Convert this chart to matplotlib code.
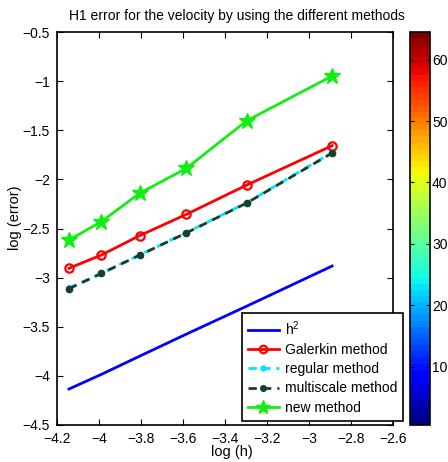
import numpy as np
import matplotlib
matplotlib.use('Agg')
import matplotlib.pyplot as plt
from matplotlib.colors import ListedColormap, Normalize
from matplotlib.cm import ScalarMappable

plt.rcParams['font.family'] = ['Liberation Sans', 'DejaVu Sans']
plt.rcParams['font.size'] = 10
plt.rcParams['mathtext.fontset'] = 'custom'
plt.rcParams['mathtext.rm'] = 'Liberation Sans'
plt.rcParams['mathtext.it'] = 'Liberation Sans'

# log of mesh size h = 1/63, 1/54, 1/45, 1/36, 1/27, 1/18
log_h = [-4.143, -3.989, -3.807, -3.584, -3.296, -2.890]
ref_h2 = [-4.134, -3.985, -3.800, -3.575, -3.290, -2.882]
galerkin = [-2.905, -2.770, -2.573, -2.356, -2.057, -1.657]
regular = [-3.109, -2.956, -2.770, -2.542, -2.237, -1.728]
multiscale = [-3.112, -2.958, -2.772, -2.545, -2.240, -1.732]
new_method = [-2.617, -2.430, -2.142, -1.888, -1.402, -0.948]

xticks = [-4.2, -4.0, -3.8, -3.6, -3.4, -3.2, -3.0, -2.8, -2.6]
xticklabels = ['\u22124.2', '\u22124', '\u22123.8', '\u22123.6', '\u22123.4',
               '\u22123.2', '\u22123', '\u22122.8', '\u22122.6']
yticks = [-4.5, -4.0, -3.5, -3.0, -2.5, -2.0, -1.5, -1.0, -0.5]
yticklabels = ['\u22124.5', '\u22124', '\u22123.5', '\u22123', '\u22122.5',
               '\u22122', '\u22121.5', '\u22121', '\u22120.5']
cbar_ticks = [10, 20, 30, 40, 50, 60]

W, H = 448, 462
fig = plt.figure(figsize=(W / 100, H / 100), dpi=100)
ax = fig.add_axes([57 / W, 37 / H, 336 / W, 393 / H])

ax.plot(log_h, ref_h2, color='#0000ff', lw=2.0, label='h$^2$')
ax.plot(log_h, galerkin, color='#ff0000', lw=2.0, marker='o', ms=6,
        mfc='none', mew=1.6, label='Galerkin method')
ax.plot(log_h, regular, color='#00e5ff', lw=2.0, ls=(0, (3, 2)), marker='o',
        ms=4, label='regular method')
ax.plot(log_h, multiscale, color='#173f30', lw=2.0, ls=(0, (3, 2.2)), marker='o',
        ms=4.5, label='multiscale method')
ax.plot(log_h, new_method, color='#11ee11', lw=2.0, marker='*', ms=12,
        label='new method')

ax.set_xlim(-4.2, -2.6)
ax.set_ylim(-4.5, -0.5)
ax.set_xticks(xticks)
ax.set_xticklabels(xticklabels)
ax.set_yticks(yticks)
ax.set_yticklabels(yticklabels)
ax.tick_params(direction='in', length=4, width=0.8, top=True, right=True,
               labelsize=10, pad=5)
for s in ax.spines.values():
    s.set_linewidth(1.2)

ax.set_xlabel('log (h)', fontsize=10.5, va='center')
ax.set_ylabel('log (error)', fontsize=10.5)
ax.xaxis.set_label_coords(0.521, -0.0687)
ax.yaxis.set_label_coords(-0.103, 0.527)

fig.text(236.5 / W, 1 - 16 / H, 'H1 error for the velocity by using the different methods',
         ha='center', va='center', fontsize=10)

leg = ax.legend(loc='upper left', bbox_to_anchor=(241.7 / W, 1 - 312.7 / H),
                bbox_transform=fig.transFigure, fontsize=10, frameon=True,
                fancybox=False, framealpha=1, edgecolor='black',
                handlelength=2.2, handletextpad=0.45, labelspacing=0.38,
                borderpad=0.45, borderaxespad=0, markerscale=0.9)
leg.get_frame().set_linewidth(1.2)

# colour bar: 64 discrete jet levels
cax = fig.add_axes([410 / W, 37 / H, 20 / W, 393 / H])
cmap = ListedColormap(plt.get_cmap('jet')(np.linspace(0, 1, 64)))
sm = ScalarMappable(norm=Normalize(0.5, 64.5), cmap=cmap)
cb = fig.colorbar(sm, cax=cax)
cb.set_ticks(cbar_ticks)
cb.outline.set_linewidth(1.2)
cax.tick_params(direction='in', length=3, left=True, right=True, labelsize=10, pad=1.5)

fig.savefig('out.png', dpi=100)
